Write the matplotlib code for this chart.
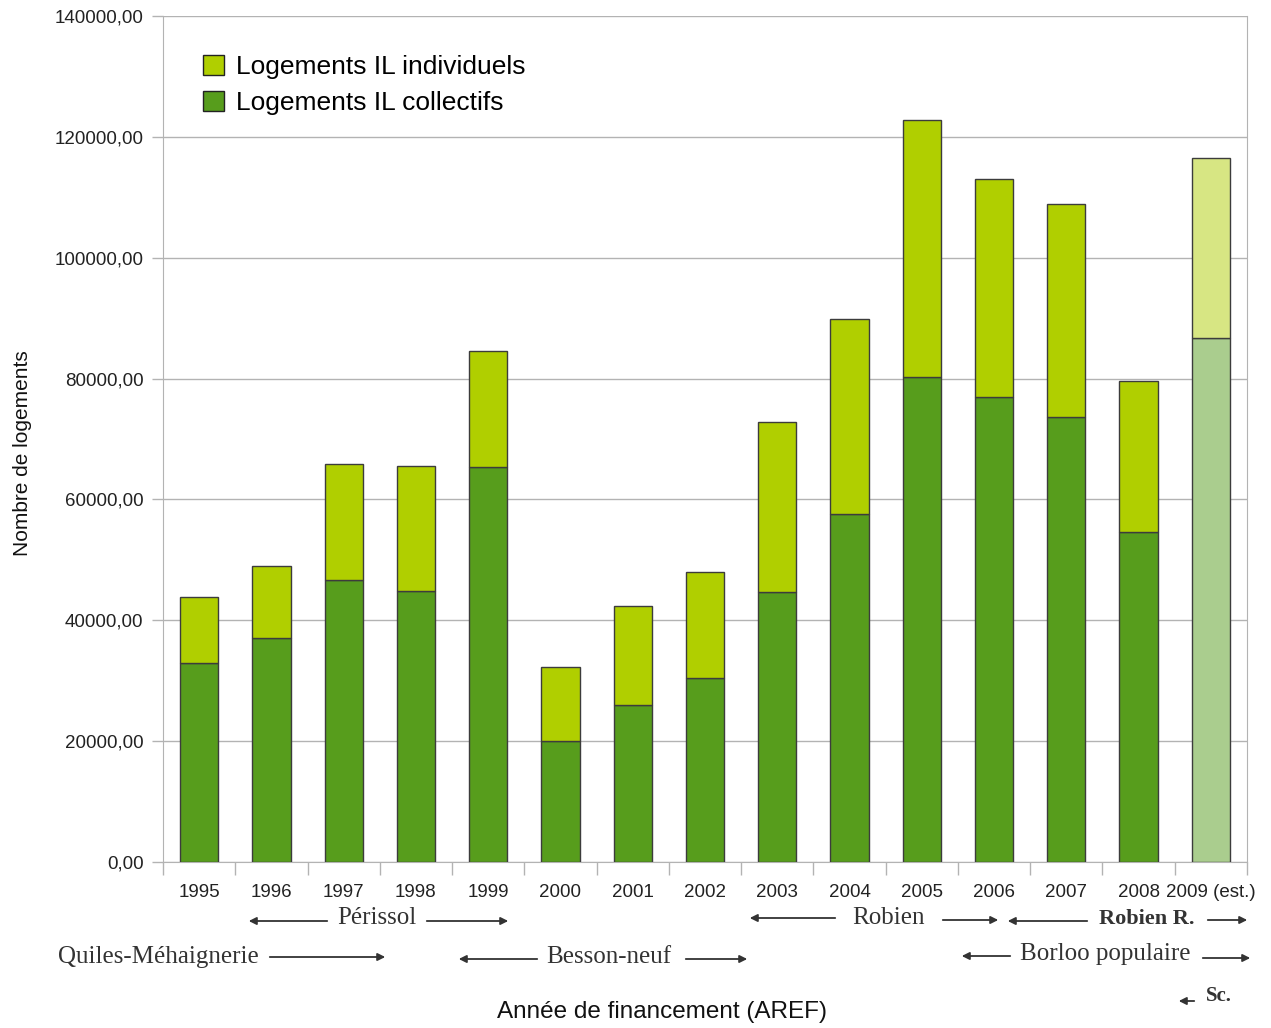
import numpy as np
import matplotlib.pyplot as plt
from matplotlib.patches import Patch, FancyArrowPatch

plt.rcParams['font.family'] = ['Liberation Sans', 'DejaVu Sans']

# Logements financés en investissement locatif (AREF)
years = ['1995', '1996', '1997', '1998', '1999', '2000', '2001', '2002',
         '2003', '2004', '2005', '2006', '2007', '2008', '2009 (est.)']
collectifs = [32900, 37000, 46700, 44800, 65300, 20000, 26000, 30400,
              44700, 57600, 80300, 77000, 73600, 54600, 86700]
individuels_total = [43800, 49000, 65800, 65500, 84500, 32300, 42400, 48000,
                     72800, 89900, 122800, 113000, 108900, 79600, 116500]
individuels = [t - c for t, c in zip(individuels_total, collectifs)]

COL_IND = '#b0cf00'
COL_COL = '#579d1c'
COL_IND_EST = '#d7e683'
COL_COL_EST = '#aacd8e'

W, H = 1271, 1028
fig = plt.figure(figsize=(W / 100, H / 100), dpi=100)
ax = fig.add_axes([163 / W, 1 - 862 / H, 1084 / W, 846 / H])

x = np.arange(len(years))
col_colors = [COL_COL] * (len(years) - 1) + [COL_COL_EST]
ind_colors = [COL_IND] * (len(years) - 1) + [COL_IND_EST]
ax.bar(x, collectifs, width=0.53, color=col_colors, edgecolor='#3c3c3c', linewidth=1, zorder=3)
ax.bar(x, individuels, width=0.53, bottom=collectifs, color=ind_colors,
       edgecolor='#3c3c3c', linewidth=1, zorder=3)

ax.set_xlim(-0.5, len(years) - 0.5)
ax.set_ylim(0, 140000)
ax.set_yticks(np.arange(0, 140001, 20000))
ax.set_yticklabels([f'{v},00' for v in range(0, 140001, 20000)])
ax.set_xticks(x)
ax.set_xticklabels(years)
ax.set_xticks(np.arange(-0.5, len(years)), minor=True)
ax.tick_params(axis='x', which='major', length=0, pad=16, labelsize=13.5, labelcolor='#222222')
ax.tick_params(axis='x', which='minor', length=9, color='#b3b3b3', width=1)
ax.tick_params(axis='y', length=8, color='#b3b3b3', width=1, pad=6, labelsize=13.5, labelcolor='#222222')
ax.grid(axis='y', color='#b3b3b3', linewidth=1, zorder=0)
for s in ['left', 'right', 'bottom', 'top']:
    ax.spines[s].set_color('#b3b3b3')
ax.spines['top'].set_visible(False)

ax.set_ylabel('Nombre de logements', fontsize=15, color='#111111', va='center')
ax.yaxis.set_label_coords(-0.13, 0.483)
ax.set_xlabel('Année de financement (AREF)', fontsize=17.5, color='#111111', va='center')
ax.xaxis.set_label_coords(0.46, -0.177)

handles = [Patch(facecolor=COL_IND, edgecolor='#222222', label='Logements IL individuels'),
           Patch(facecolor=COL_COL, edgecolor='#222222', label='Logements IL collectifs')]
ax.legend(handles=handles, loc='upper left', bbox_to_anchor=(179 / W, 1 - 31 / H),
          bbox_transform=fig.transFigure, frameon=False, fontsize=19,
          handlelength=0.8, handleheight=0.8, handletextpad=0.45, labelspacing=0.45)


# Dispositifs fiscaux sous l'axe des années (coordonnées en pixels de la figure)
def fx(px):
    return px / W


def fy(py):
    return 1 - py / H


def arrow(x0, x1, y):
    fig.add_artist(FancyArrowPatch(
        (fx(x0), fy(y)), (fx(x1), fy(y)), transform=fig.transFigure,
        arrowstyle='-|>', mutation_scale=11, lw=1.3, color='#333333'))


def label(px, py, s, size=18, bold=False):
    fig.text(fx(px), fy(py), s, ha='center', va='center', fontsize=size,
             family='Liberation Serif', color='#333333',
             fontweight='bold' if bold else 'normal')


label(377, 918, 'Périssol')
arrow(330, 246, 921)
arrow(424, 511, 921)

label(158, 957, 'Quiles-Méhaignerie')
arrow(267, 388, 957)

label(609, 957, 'Besson-neuf')
arrow(540, 456, 959)
arrow(683, 750, 959)

label(888, 918, 'Robien')
arrow(838, 747, 918)
arrow(940, 1001, 920)

label(1147, 919, 'Robien R.', size=16, bold=True)
arrow(1090, 1005, 921)
arrow(1205, 1250, 920)

label(1105, 954, 'Borloo populaire')
arrow(1013, 959, 956)
arrow(1200, 1253, 958)

label(1219, 996, 'Sc.', size=15, bold=True)
arrow(1197, 1176, 1001)

fig.savefig('out.png', dpi=100)
